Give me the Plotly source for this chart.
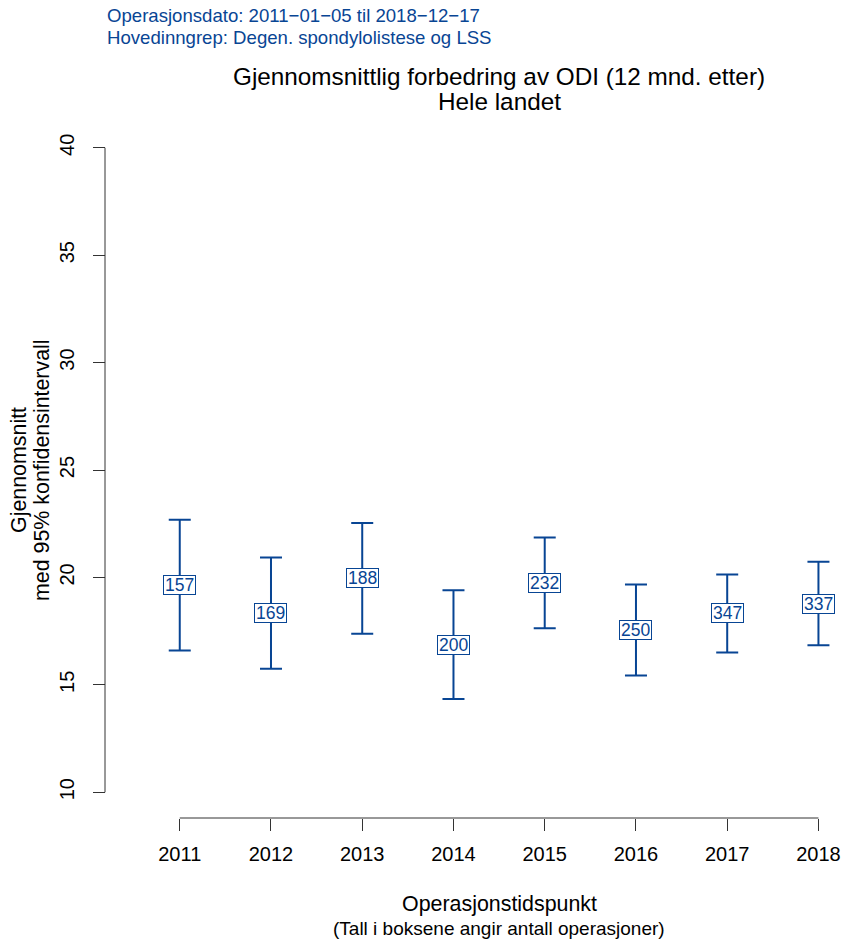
import plotly.graph_objects as go

# ---- data ----
years = [2011, 2012, 2013, 2014, 2015, 2016, 2017, 2018]
means = [19.64, 18.34, 19.95, 16.87, 19.745, 17.55, 18.325, 18.785]
upper = [22.68, 20.93, 22.53, 19.40, 21.86, 19.67, 20.14, 20.73]
lower = [16.60, 15.75, 17.38, 14.34, 17.63, 15.43, 16.51, 16.84]
counts = [157, 169, 188, 200, 232, 250, 347, 337]
y_ticks = [10, 15, 20, 25, 30, 35, 40]

title_lines = ["Gjennomsnittlig forbedring av ODI (12 mnd. etter)", "Hele landet"]
info_lines = ["Operasjonsdato: 2011\u221201\u221205 til 2018\u221212\u221217",
              "Hovedinngrep: Degen. spondylolistese og LSS"]
ytitle_lines = ["Gjennomsnitt", "med 95% konfidensintervall"]
xtitle = "Operasjonstidspunkt"
xsub = "(Tall i boksene angir antall operasjoner)"

BLUE = "#084594"
AXC = "#333333"
FONT = "Liberation Sans, Arial, sans-serif"

W, H = 844, 944
L, R, T, B = 105, 0, 122, 126
PW, PH = W - L - R, H - T - B


def px_x(px):
    return (px - L) / PW


def px_y(py):
    return (H - B - py) / PH


err_plus = [u - m for u, m in zip(upper, means)]
err_minus = [m - l for m, l in zip(means, lower)]

fig = go.Figure()
fig.add_trace(go.Scatter(
    x=years, y=means, mode="markers",
    marker=dict(size=1, color="rgba(0,0,0,0)"),
    error_y=dict(type="data", array=err_plus, arrayminus=err_minus,
                 symmetric=False, color=BLUE, thickness=2, width=11),
    showlegend=False, hoverinfo="skip"))

annotations = []
for yr, m, n in zip(years, means, counts):
    annotations.append(dict(
        x=yr, y=m, xref="x", yref="y", text=str(n), showarrow=False,
        font=dict(size=17.5, color=BLUE, family=FONT),
        bgcolor="white", bordercolor=BLUE, borderwidth=1, borderpad=1,
        height=16, xanchor="center", yanchor="middle"))

# title
for txt, py in zip(title_lines, [76.7, 102]):
    annotations.append(dict(x=0.5, xref="x domain", y=px_y(py), yref="paper",
                            text=txt, showarrow=False, xanchor="center", yanchor="middle",
                            font=dict(size=24.3, color="black", family=FONT)))
# info text
for txt, py in zip(info_lines, [15.8, 37.4]):
    annotations.append(dict(x=0, xref="paper", y=px_y(py), yref="paper",
                            text=txt, showarrow=False, xanchor="left", yanchor="middle",
                            font=dict(size=18.6, color=BLUE, family=FONT)))
# y title
for txt, px in zip(ytitle_lines, [19, 42]):
    annotations.append(dict(x=px_x(px), xref="paper", y=0.5, yref="paper",
                            text=txt, showarrow=False, textangle=-90,
                            xanchor="center", yanchor="middle",
                            font=dict(size=21.4, color="black", family=FONT)))
# x titles
annotations.append(dict(x=0.5, xref="x domain", y=px_y(904), yref="paper",
                        text=xtitle, showarrow=False, xanchor="center", yanchor="middle",
                        font=dict(size=21.4, color="black", family=FONT)))
annotations.append(dict(x=0.5, xref="x domain", y=px_y(928), yref="paper",
                        text=xsub, showarrow=False, xanchor="center", yanchor="middle",
                        font=dict(size=19, color="black", family=FONT)))

shapes = [
    dict(type="line", xref="paper", x0=0, x1=0, yref="y", y0=y_ticks[0], y1=y_ticks[-1],
         line=dict(color=AXC, width=1)),
    dict(type="line", xref="x", x0=years[0], x1=years[-1], yref="paper", y0=0, y1=0,
         line=dict(color=AXC, width=1)),
]

fig.update_layout(
    width=W, height=H,
    margin=dict(l=L, r=R, t=T, b=B, pad=0),
    paper_bgcolor="white", plot_bgcolor="white",
    font=dict(family=FONT, color="black"),
    xaxis=dict(domain=[(154.2 - L) / PW, 1], range=[2010.72, 2018.28],
               tickvals=years, ticktext=[str(y) for y in years],
               ticks="outside", ticklen=12, tickwidth=1, tickcolor=AXC,
               tickfont=dict(size=20, color="black", family=FONT),
               showgrid=False, zeroline=False, showline=False,
               ticklabelstandoff=6),
    yaxis=dict(range=[8.8, 41.2], anchor="free", position=0,
               tickvals=y_ticks, ticktext=[str(v) for v in y_ticks],
               ticks="outside", ticklen=12, tickwidth=1, tickcolor=AXC,
               tickangle=-90,
               tickfont=dict(size=20, color="black", family=FONT),
               showgrid=False, zeroline=False, showline=False,
               ticklabelstandoff=11),
    annotations=annotations,
    shapes=shapes,
    showlegend=False,
)

fig.write_html("out.html")
